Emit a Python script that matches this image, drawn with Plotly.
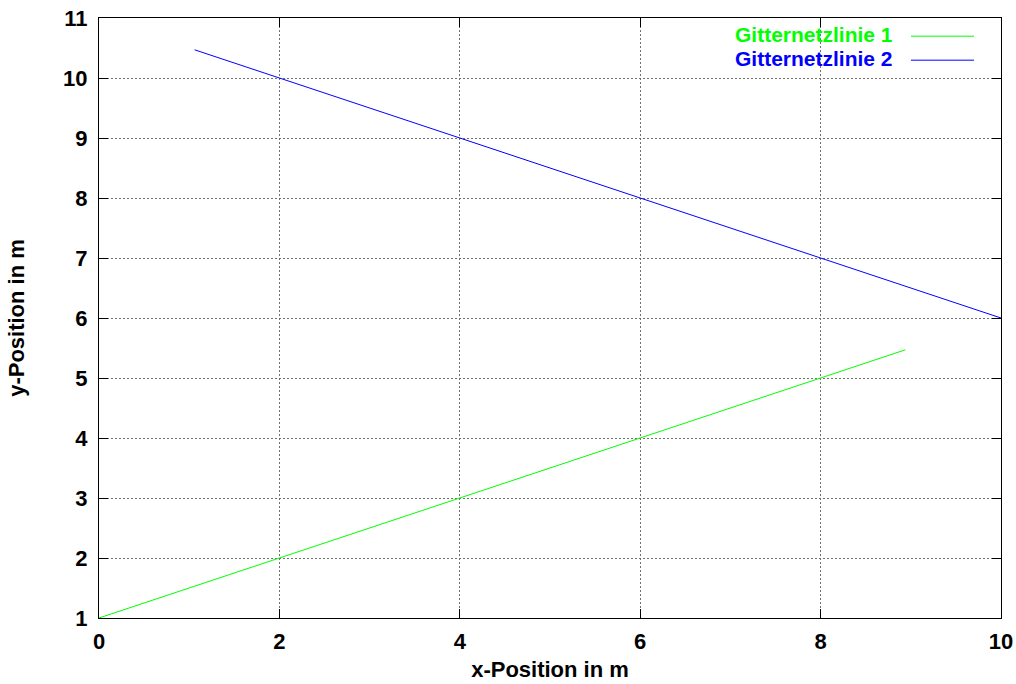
import plotly.graph_objects as go

# Data
line1_x = [0.0, 8.94]
line1_y = [1.0, 5.47]
line2_x = [1.06, 10.0]
line2_y = [10.47, 6.0]
series_names = ["Gitternetzlinie 1", "Gitternetzlinie 2"]
series_colors = ["#00ff00", "#0000ff"]
x_ticks = [0, 2, 4, 6, 8, 10]
y_ticks = [1, 2, 3, 4, 5, 6, 7, 8, 9, 10, 11]

FONT = "Liberation Sans, Arial, sans-serif"
FS = 22

fig = go.Figure()
fig.add_trace(go.Scatter(x=line1_x, y=line1_y, mode="lines",
                         line=dict(color=series_colors[0], width=1),
                         name=series_names[0], showlegend=False))
fig.add_trace(go.Scatter(x=line2_x, y=line2_y, mode="lines",
                         line=dict(color=series_colors[1], width=1),
                         name=series_names[1], showlegend=False))

axis_common = dict(
    showline=True, linecolor="black", linewidth=1, mirror="ticks",
    ticks="inside", ticklen=9, tickwidth=1, tickcolor="black",
    showgrid=True, gridcolor="#707070", gridwidth=1, griddash="2px,2px",
    zeroline=False, automargin=False,
    tickfont=dict(family=FONT, size=FS, color="black", weight="bold"),
)

fig.update_xaxes(range=[0, 10], tickvals=x_ticks, ticktext=[str(v) for v in x_ticks],
                 title=dict(text="<b>x-Position in m</b>", font=dict(family=FONT, size=FS, color="black"),
                            standoff=8),
                 ticklabelstandoff=4,
                 **axis_common)
fig.update_yaxes(range=[1, 11], tickvals=y_ticks, ticktext=[str(v) for v in y_ticks],
                 title=dict(text="<b>y-Position in m</b>", font=dict(family=FONT, size=FS, color="black"),
                            standoff=32),
                 ticklabelstandoff=6,
                 **axis_common)

# Legend (gnuplot style: text right-aligned, sample to the right)
legend_rows_y = [0.9717, 0.9317]
for name, color, yy in zip(series_names, series_colors, legend_rows_y):
    fig.add_annotation(xref="paper", yref="paper", x=0.8814, y=yy, xanchor="right", yanchor="middle",
                       text=f"<b>{name}</b>", showarrow=False, borderpad=0,
                       font=dict(family=FONT, size=21, color=color))
    fig.add_shape(type="line", xref="paper", yref="paper", x0=0.9002, x1=0.9701, y0=yy - 0.002, y1=yy - 0.002,
                  line=dict(color=color, width=1))

fig.update_layout(
    width=1016, height=684,
    margin=dict(l=99, r=15, t=18, b=66, pad=0),
    plot_bgcolor="white", paper_bgcolor="white",
    font=dict(family=FONT, color="black"),
)

fig.write_html("out.html")
